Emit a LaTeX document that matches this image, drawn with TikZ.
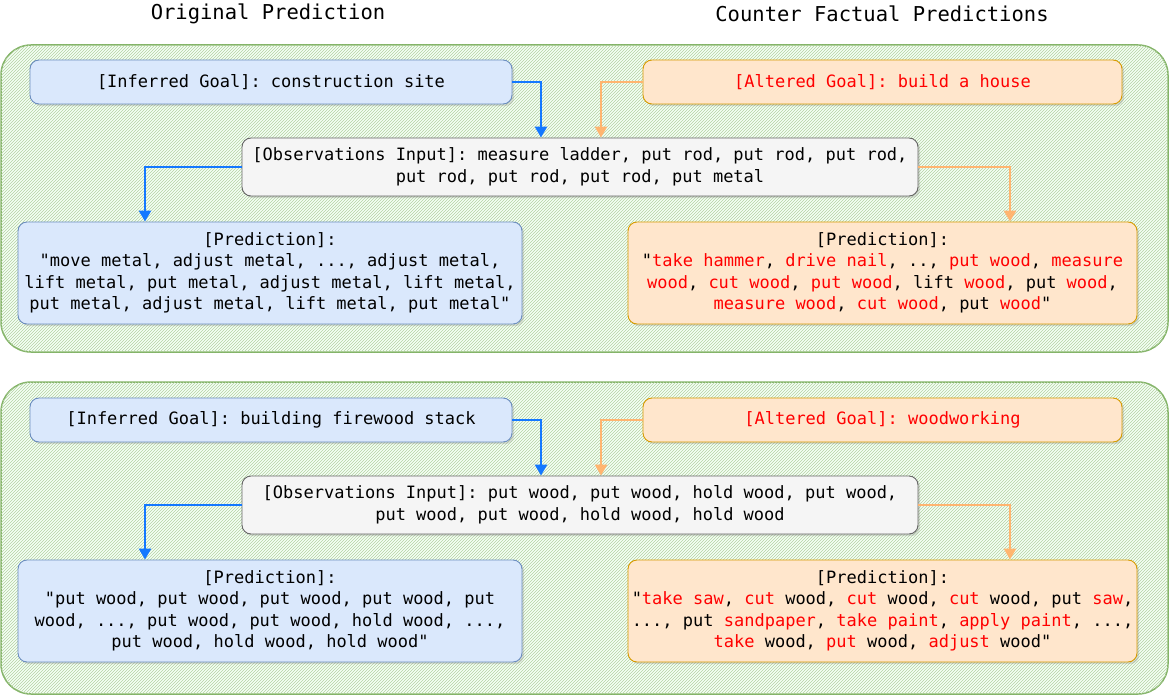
\documentclass[tikz,border=0pt]{standalone}
\usepackage{fontspec}
\setmonofont{DejaVu Sans Mono}
\usetikzlibrary{patterns,shadows,arrows.meta}
\definecolor{bluefill}{HTML}{DAE8FC}
\definecolor{bluedraw}{HTML}{6C8EBF}
\definecolor{orfill}{HTML}{FFE6CC}
\definecolor{ordraw}{HTML}{D79B00}
\definecolor{greyfill}{HTML}{F5F5F5}
\definecolor{greydraw}{HTML}{666666}
\definecolor{panelgreen}{HTML}{82B366}
\definecolor{bluearrow}{HTML}{1478FF}
\definecolor{orarrow}{HTML}{FFB570}
\tikzset{
  panel/.style={draw=panelgreen, line width=1.5pt, rounded corners=30pt, fill=green!4,
    postaction={pattern=north east lines, pattern color=panelgreen!60}},
  box/.style={rectangle, rounded corners=9pt, line width=0.9pt,
    font=\ttfamily\fontsize{17}{21.5}\selectfont,
    align=center, inner sep=2pt, drop shadow={opacity=0.25}},
  bluebox/.style={box, draw=bluedraw, fill=bluefill},
  orbox/.style={box, draw=ordraw, fill=orfill},
  greybox/.style={box, draw=greydraw, fill=greyfill},
  bluearr/.style={draw=bluearrow, line width=2.6pt, -{Triangle[length=11pt,width=12pt]}},
  orarr/.style={draw=orarrow, line width=2.6pt, -{Triangle[length=11pt,width=12pt]}},
  title/.style={font=\ttfamily\fontsize{20.5}{24}\selectfont}
}
\newcommand{\rd}[1]{\textcolor{red}{#1}}
\begin{document}
\begin{tikzpicture}[x=1pt,y=-1pt]
\useasboundingbox (0,0) rectangle (1171,698);

\node[title] (ttlL) at (268,14) {Original Prediction};
\node[title] (ttlR) at (882,14) {Counter Factual Predictions};

% top panel
\draw[panel] (1,45) rectangle (1168,352);
\node[bluebox, minimum width=482pt, minimum height=44pt] (goalA) at (271,82)
  {[Inferred Goal]: construction site};
\node[orbox, minimum width=479pt, minimum height=44pt] (altA) at (882.5,82)
  {\rd{[Altered Goal]: build a house}};
\node[greybox, minimum width=676pt, minimum height=58pt] (obsA) at (580,167)
  {[Observations Input]: measure ladder, put rod, put rod, put rod,\\
   put rod, put rod, put rod, put metal};
\node[bluebox, minimum width=504pt, minimum height=102pt] (predLA) at (270,273)
  {[Prediction]:\\
   "move metal, adjust metal, ..., adjust metal,\\
   lift metal, put metal, adjust metal, lift metal,\\
   put metal, adjust metal, lift metal, put metal"};
\node[orbox, minimum width=509pt, minimum height=102pt] (predRA) at (882.5,273)
  {[Prediction]:\\
   "\rd{take hammer}, \rd{drive nail}, .., \rd{put wood}, \rd{measure}\\
   \rd{wood}, \rd{cut wood}, \rd{put wood}, lift \rd{wood}, put \rd{wood},\\
   \rd{measure wood}, \rd{cut wood}, put \rd{wood}"};
\draw[bluearr] (goalA.east) -| (obsA.north -| 541,0);
\draw[orarr] (altA.west) -| (obsA.north -| 601,0);
\draw[bluearr] (obsA.west) -| (predLA.north -| 145,0);
\draw[orarr] (obsA.east) -| (predRA.north -| 1010,0);

% bottom panel
\draw[panel] (1,382) rectangle (1168,694);
\node[bluebox, minimum width=482pt, minimum height=44pt] (goalB) at (271,420)
  {[Inferred Goal]: building firewood stack};
\node[orbox, minimum width=479pt, minimum height=44pt] (altB) at (882.5,420)
  {\rd{[Altered Goal]: woodworking}};
\node[greybox, minimum width=676pt, minimum height=58pt] (obsB) at (580,505)
  {[Observations Input]: put wood, put wood, hold wood, put wood,\\
   put wood, put wood, hold wood, hold wood};
\node[bluebox, minimum width=504pt, minimum height=102pt] (predLB) at (270,611)
  {[Prediction]:\\
   "put wood, put wood, put wood, put wood, put\\
   wood, ..., put wood, put wood, hold wood, ...,\\
   put wood, hold wood, hold wood"};
\node[orbox, minimum width=509pt, minimum height=102pt] (predRB) at (882.5,611)
  {[Prediction]:\\
   "\rd{take saw}, \rd{cut} wood, \rd{cut} wood, \rd{cut} wood, put \rd{saw},\\
   ..., put \rd{sandpaper}, \rd{take paint}, \rd{apply paint}, ...,\\
   \rd{take} wood, \rd{put} wood, \rd{adjust} wood"};
\draw[bluearr] (goalB.east) -| (obsB.north -| 541,0);
\draw[orarr] (altB.west) -| (obsB.north -| 601,0);
\draw[bluearr] (obsB.west) -| (predLB.north -| 145,0);
\draw[orarr] (obsB.east) -| (predRB.north -| 1010,0);
\end{tikzpicture}
\end{document}
